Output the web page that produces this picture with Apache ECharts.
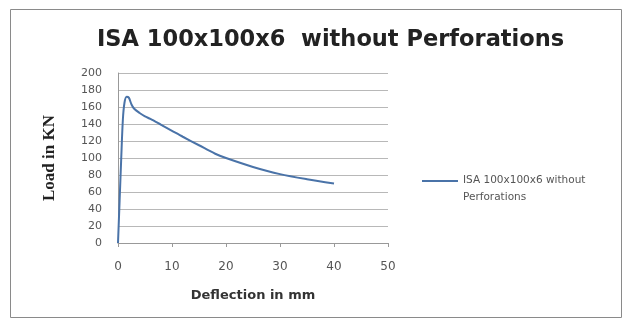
<!DOCTYPE html>
<html><head><meta charset="utf-8">
<script src="https://cdn.jsdelivr.net/npm/echarts@6/dist/echarts.min.js"></script>
<style>html,body{margin:0;padding:0;background:#fff}#c{width:632px;height:325px}</style>
</head><body><div id="c"></div>
<script>
var titleText = 'ISA 100x100x6  without Perforations';
var seriesName = 'ISA 100x100x6 without Perforations';
var xName = 'Deflection in mm';
var yName = 'Load in KN';
var deflection = [0, 0.3, 0.6, 0.9, 1.2, 1.6, 2.0, 2.5, 3, 4, 5, 6, 8, 10, 12, 15, 18, 20, 25, 30, 35, 40];
var load =       [0, 50, 100, 145, 165, 172, 171, 163, 158, 153, 149, 146, 139, 132, 125, 115, 105, 100, 89.5, 81, 75, 70];

var chart = echarts.init(document.getElementById('c'));
chart.setOption({
  animation: false,
  backgroundColor: '#fff',
  graphic: [{type:'rect', shape:{x:10.5,y:9.5,width:611,height:308}, style:{fill:'none', stroke:'#8a8a8a', lineWidth:1}, silent:true}],
  title: {text: titleText, left: 92, top: 24, textStyle:{fontFamily:'DejaVu Sans', fontWeight:'bold', fontSize:22.5, color:'#222'}},
  legend: {left: 422, top: 172, padding: 0, itemWidth: 36, itemHeight: 34, itemGap: 4,
    icon: 'path://M0,0L0.01,0L0,0.01Z M0,8L36,8L36,10L0,10Z M0,34L0.01,34L0,34.01Z',
    formatter: function(){ return 'ISA 100x100x6 without\nPerforations'; },
    textStyle:{fontFamily:'DejaVu Sans', fontSize:10.5, color:'#555', lineHeight:17}},
  grid: {left: 118, right: 244, top: 73, bottom: 82},
  xAxis: {type:'value', min:0, max:50, interval:10, name: xName, nameLocation:'middle', nameGap:46,
    nameTextStyle:{fontFamily:'DejaVu Sans', fontWeight:'bold', fontSize:13, color:'#333'},
    axisLine:{show:true, lineStyle:{color:'#999'}}, axisTick:{show:true, length:4, lineStyle:{color:'#999'}},
    axisLabel:{fontFamily:'DejaVu Sans', fontSize:12, color:'#555', margin:18}, splitLine:{show:false}},
  yAxis: {type:'value', min:0, max:200, interval:20, name: yName, nameLocation:'middle', nameGap:60, nameRotate:90,
    nameTextStyle:{fontFamily:'Liberation Serif', fontWeight:'bold', fontSize:17, color:'#222'},
    axisLine:{show:true, lineStyle:{color:'#999'}}, axisTick:{show:false},
    axisLabel:{fontFamily:'DejaVu Sans', fontSize:11, color:'#555', margin:16},
    splitLine:{show:true, lineStyle:{color:'#b8b8b8'}}},
  series: [{name: seriesName, type:'line', smooth:0.3, showSymbol:false,
    data: deflection.map(function(d,i){return [d, load[i]];}),
    lineStyle:{color:'#4a73a8', width:2}, itemStyle:{color:'#4a73a8'}}]
});
</script></body></html>
